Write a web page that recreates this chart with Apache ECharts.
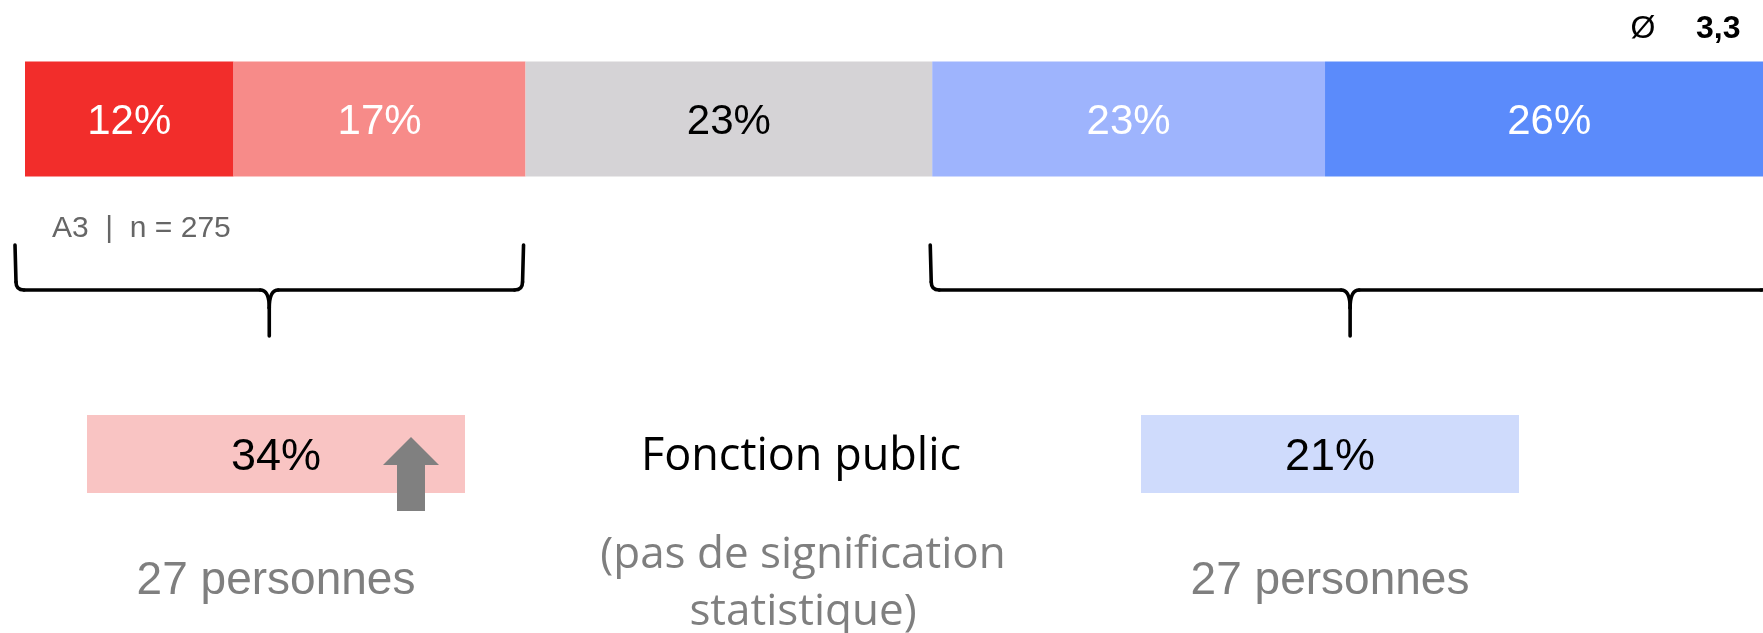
<!DOCTYPE html>
<html>
<head>
<meta charset="utf-8">
<script src="https://cdn.jsdelivr.net/npm/echarts@6/dist/echarts.min.js"></script>
<style>
html,body{margin:0;padding:0;background:#fff;}
#chart{width:1763px;height:633px;}
</style>
</head>
<body>
<div id="chart"></div>
<script>
// ---- data ----
const categories = ['A3'];
const segmentNames = ['1', '2', '3', '4', '5'];
const segmentValues = [12.0, 16.8, 23.4, 22.6, 25.8];
const segmentColors = ['#F22D2B', '#F78B89', '#D5D3D6', '#9EB4FD', '#5B8BFB'];
const segmentLabelColors = ['#ffffff', '#ffffff', '#000000', '#ffffff', '#ffffff'];
const meanLabel = 'Ø';
const meanValue = '3,3';
const sampleLabel = 'A3  |  n = 275';
const groupValues = [34, 21];
const groupCounts = [27, 27];
const groupName = 'Fonction public';
const groupNoteLines = ['(pas de signification', 'statistique)'];

const SANS = '"Liberation Sans", Arial, sans-serif';
const SANS2 = '"Open Sans", "Noto Sans", sans-serif';

const chart = echarts.init(document.getElementById('chart'), null, {renderer: 'canvas'});

const series = segmentValues.map((v, i) => ({
  name: segmentNames[i],
  type: 'bar',
  stack: 'total',
  barWidth: '100%',
  clip: false,
  silent: true,
  itemStyle: {color: segmentColors[i]},
  label: {
    show: true,
    position: 'inside',
    offset: [0, 3],
    formatter: p => Math.round(p.value) + '%',
    color: segmentLabelColors[i],
    fontSize: 42,
    fontFamily: SANS
  },
  data: [v]
}));

chart.setOption({
  animation: false,
  grid: {left: 25, right: 0, top: 61.5, height: 115},
  xAxis: {type: 'value', min: 0, max: 100, show: false},
  yAxis: {type: 'category', data: categories, show: false},
  series: series
});

// bracket helper
function px(v) { return chart.convertToPixel({xAxisIndex: 0}, v); }
const cum = [];
segmentValues.reduce((a, v) => { cum.push(a + v); return a + v; }, 0);

function bracket(x0, x1) {
  const cx = (x0 + x1) / 2;
  const yT = 245, yH = 290, yB = 336, r = 8;
  const st = {stroke: '#000', lineWidth: 3.6, fill: null, lineCap: 'round'};
  const els = [];
  els.push({type: 'line', shape: {x1: x0, y1: yT, x2: x0 + 1, y2: yH - r}, style: st});
  els.push({type: 'bezierCurve', shape: {x1: x0 + 1, y1: yH - r, cpx1: x0 + 1, cpy1: yH, x2: x0 + 1 + r, y2: yH}, style: st});
  els.push({type: 'line', shape: {x1: x0 + 1 + r, y1: yH, x2: cx - 9, y2: yH}, style: st});
  els.push({type: 'bezierCurve', shape: {x1: cx - 9, y1: yH, cpx1: cx, cpy1: yH, x2: cx, y2: yH + 18}, style: st});
  els.push({type: 'bezierCurve', shape: {x1: cx + 9, y1: yH, cpx1: cx, cpy1: yH, x2: cx, y2: yH + 18}, style: st});
  els.push({type: 'line', shape: {x1: cx, y1: yH + 18, x2: cx, y2: yB}, style: st});
  els.push({type: 'line', shape: {x1: cx + 9, y1: yH, x2: x1 - 1 - r, y2: yH}, style: st});
  els.push({type: 'bezierCurve', shape: {x1: x1 - 1 - r, y1: yH, cpx1: x1 - 1, cpy1: yH, x2: x1 - 1, y2: yH - r}, style: st});
  els.push({type: 'line', shape: {x1: x1 - 1, y1: yH - r, x2: x1, y2: yT}, style: st});
  return els;
}

function txt(x, y, text, size, color, family, align, weight) {
  return {
    type: 'text', x: x, y: y, silent: true,
    style: {
      text: text, fontSize: size, fontFamily: family, fill: color,
      fontWeight: weight || 'normal',
      align: align || 'center', verticalAlign: 'middle',
      textAlign: align || 'center', textVerticalAlign: 'middle'
    }
  };
}

const leftB = bracket(px(0) - 10, px(cum[1]) - 2);
const rightB = bracket(px(cum[2]) - 2, px(100) + 7);

const boxes = [
  {x: 87, color: '#F9C4C3'},
  {x: 1141, color: '#CFDBFC'}
];
const boxW = 378, boxY = 415, boxH = 78;

const graphics = [].concat(leftB, rightB);
boxes.forEach((b, i) => {
  graphics.push({type: 'rect', shape: {x: b.x, y: boxY, width: boxW, height: boxH}, style: {fill: b.color}, silent: true});
  graphics.push(txt(b.x + boxW / 2, 458, groupValues[i] + '%', 45, '#000', SANS));
  graphics.push(txt(b.x + boxW / 2, 581, groupCounts[i] + ' personnes', 46, '#7F7F7F', SANS));
});
// arrow (significance marker)
graphics.push({
  type: 'polygon', silent: true,
  shape: {points: [[411, 437], [439, 465], [425, 465], [425, 511], [397, 511], [397, 465], [383, 465]]},
  style: {fill: '#808080'}
});
graphics.push(txt(801, 457, groupName, 45, '#000', SANS2));
graphics.push(txt(803, 555, groupNoteLines[0], 44, '#7F7F7F', SANS2));
graphics.push(txt(803, 612, groupNoteLines[1], 44, '#7F7F7F', SANS2));
graphics.push(txt(52, 229, sampleLabel, 30, '#666666', SANS, 'left'));
graphics.push(txt(1643, 29, meanLabel, 32, '#000', SANS));
graphics.push(txt(1696, 29, meanValue, 32, '#000', SANS, 'left', 'bold'));

chart.setOption({graphic: {elements: graphics}});
</script>
</body>
</html>
